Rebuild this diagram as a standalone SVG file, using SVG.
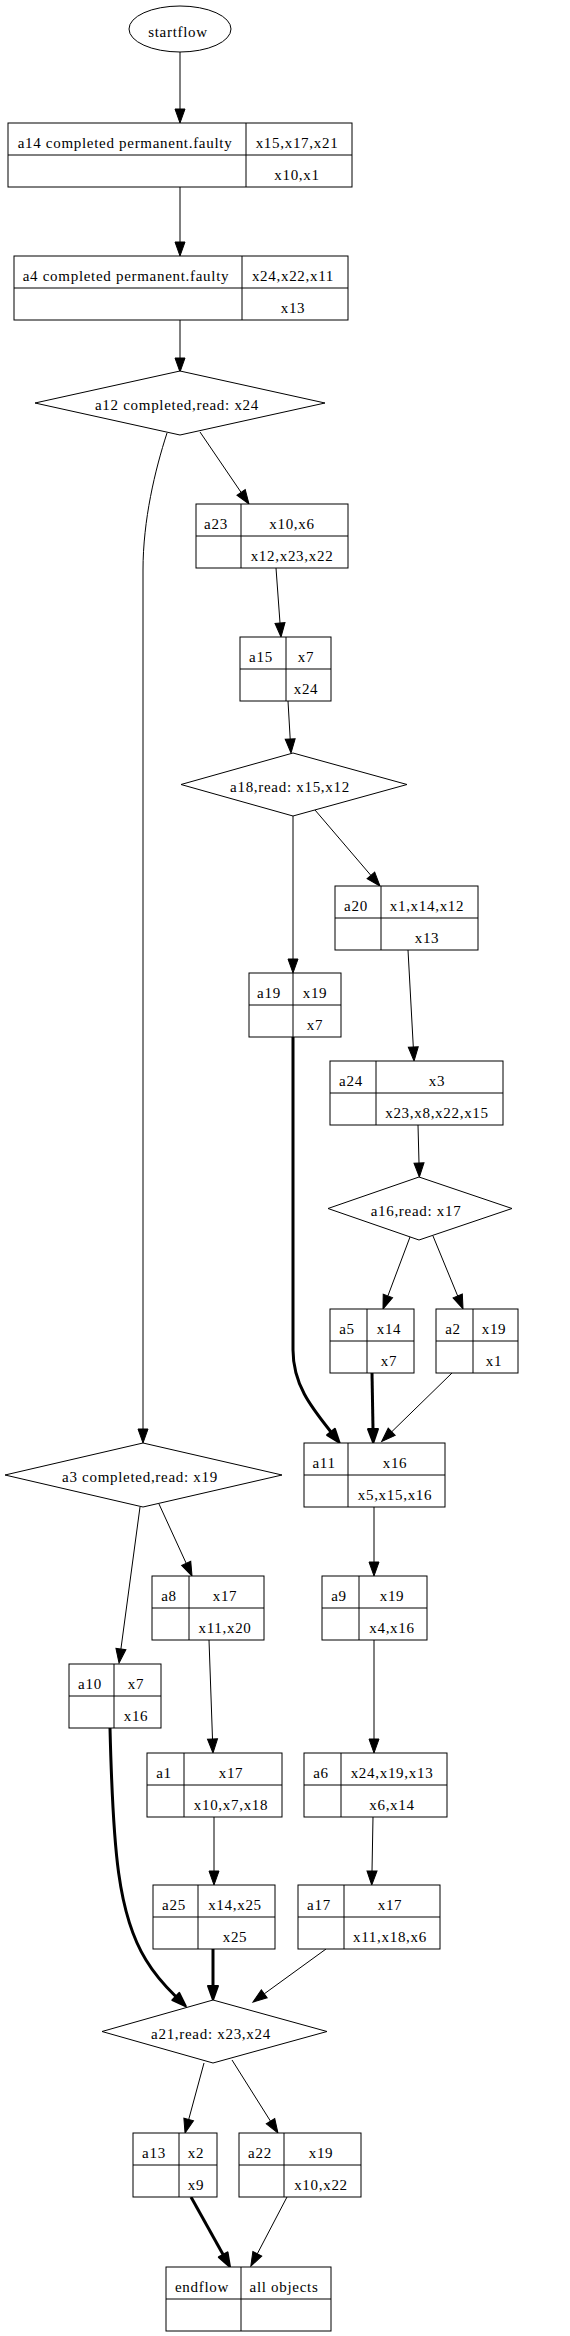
<svg xmlns="http://www.w3.org/2000/svg" width="570" height="2336" viewBox="0 0 570 2336">
<style>
.n rect,.n path,.n ellipse,.n polygon{fill:#fff;stroke:#000;stroke-width:1}
.n path{fill:none}
text{font-family:"Liberation Serif","Times New Roman",serif;font-size:15px;letter-spacing:0.7px;fill:#000;text-anchor:middle}
.e{fill:none;stroke:#000;stroke-width:1}
.et{fill:none;stroke:#000;stroke-width:3}
.e{marker-end:url(#ah)}
.et{marker-end:url(#aht)}
</style>
<defs>
<marker id="ah" markerUnits="userSpaceOnUse" viewBox="0 0 14 10" refX="0" refY="5" markerWidth="14" markerHeight="10" orient="auto" overflow="visible"><path d="M0,0 L14,5 L0,10 Z" fill="#000" stroke="#000" stroke-width="1"/></marker>
<marker id="aht" markerUnits="userSpaceOnUse" viewBox="0 0 14 10" refX="0" refY="5" markerWidth="14" markerHeight="10" orient="auto" overflow="visible"><path d="M0,0 L14,5 L0,10 Z" fill="#000" stroke="#000" stroke-width="2" stroke-linejoin="round"/></marker>
</defs>
<rect width="570" height="2336" fill="#fff"/>
<g id="edges">
<path class="e" d="M180,52 V109"/>
<path class="e" d="M180,187 V242"/>
<path class="e" d="M180,320 V358"/>
<path class="e" d="M200,432 L241.1,492.4"/>
<path class="e" d="M167,433 C155,470 143,520 143,570 V1429"/>
<path class="e" d="M276,568 L280,623"/>
<path class="e" d="M288,701 L290.2,739"/>
<path class="e" d="M293,816 V959"/>
<path class="e" d="M315,810 L370.9,875.4"/>
<path class="e" d="M408,950 L413.3,1047"/>
<path class="et" d="M293,1037 V1350 C293,1385 312,1408 331,1432"/>
<path class="e" d="M418,1125 L419,1163"/>
<path class="e" d="M410,1237 L387.9,1295.9"/>
<path class="e" d="M433,1236 L457.7,1296"/>
<path class="et" d="M372,1373 L373,1429"/>
<path class="e" d="M452,1373 L391.7,1431.8"/>
<path class="e" d="M140,1507 L120.9,1649.1"/>
<path class="e" d="M159,1504 L186.2,1563.3"/>
<path class="e" d="M374,1507 V1562"/>
<path class="e" d="M209,1640 L212.5,1739"/>
<path class="e" d="M374,1640 V1739"/>
<path class="et" d="M110,1728 C113,1850 118,1915 146,1960 C155,1975 165,1986 175.8,1996.5"/>
<path class="e" d="M214,1817 V1871"/>
<path class="e" d="M373,1817 L372,1871"/>
<path class="et" d="M213,1949 V1986"/>
<path class="e" d="M326,1949 L264.3,1993.8"/>
<path class="e" d="M204,2063 L188.7,2119.5"/>
<path class="e" d="M232,2060 L270.5,2121.2"/>
<path class="et" d="M191,2197 L223.2,2254.8"/>
<path class="e" d="M287,2197 L257.3,2253.8"/>
</g>
<g id="startflow" class="n"><ellipse cx="180" cy="29" rx="51" ry="23"/><text x="178" y="37">startflow</text></g>
<g id="a14" class="n"><rect x="8" y="123" width="344" height="64"/><path d="M8,155 H352 M246,123 V187"/><text x="125" y="148">a14 completed permanent.faulty</text><text x="297" y="148">x15,x17,x21</text><text x="297" y="180">x10,x1</text></g>
<g id="a4" class="n"><rect x="14" y="256" width="334" height="64"/><path d="M14,288 H348 M242,256 V320"/><text x="126" y="281">a4 completed permanent.faulty</text><text x="293" y="281">x24,x22,x11</text><text x="293" y="313">x13</text></g>
<g id="a12" class="n"><polygon points="180,371 325,403 180,435 35,403"/><text x="177" y="410">a12 completed,read: x24</text></g>
<g id="a23" class="n"><rect x="196" y="504" width="152" height="64"/><path d="M196,536 H348 M241,504 V568"/><text x="216" y="529">a23</text><text x="292" y="529">x10,x6</text><text x="292" y="561">x12,x23,x22</text></g>
<g id="a15" class="n"><rect x="240" y="637" width="91" height="64"/><path d="M240,669 H331 M286,637 V701"/><text x="261" y="662">a15</text><text x="306" y="662">x7</text><text x="306" y="694">x24</text></g>
<g id="a18" class="n"><polygon points="293,753 407,784.5 293,816 181,784.5"/><text x="290" y="792">a18,read: x15,x12</text></g>
<g id="a20" class="n"><rect x="335" y="886" width="143" height="64"/><path d="M335,918 H478 M381,886 V950"/><text x="356" y="911">a20</text><text x="427" y="911">x1,x14,x12</text><text x="427" y="943">x13</text></g>
<g id="a19" class="n"><rect x="249" y="973" width="92" height="64"/><path d="M249,1005 H341 M293,973 V1037"/><text x="269" y="998">a19</text><text x="315" y="998">x19</text><text x="315" y="1030">x7</text></g>
<g id="a24" class="n"><rect x="330" y="1061" width="173" height="64"/><path d="M330,1093 H503 M376,1061 V1125"/><text x="351" y="1086">a24</text><text x="437" y="1086">x3</text><text x="437" y="1118">x23,x8,x22,x15</text></g>
<g id="a16" class="n"><polygon points="419,1177 512,1208.5 419,1240 328,1208.5"/><text x="416" y="1216">a16,read: x17</text></g>
<g id="a5" class="n"><rect x="330" y="1309" width="84" height="64"/><path d="M330,1341 H414 M367,1309 V1373"/><text x="347" y="1334">a5</text><text x="389" y="1334">x14</text><text x="389" y="1366">x7</text></g>
<g id="a2" class="n"><rect x="436" y="1309" width="82" height="64"/><path d="M436,1341 H518 M473,1309 V1373"/><text x="453" y="1334">a2</text><text x="494" y="1334">x19</text><text x="494" y="1366">x1</text></g>
<g id="a11" class="n"><rect x="304" y="1443" width="141" height="64"/><path d="M304,1475 H445 M348,1443 V1507"/><text x="324" y="1468">a11</text><text x="395" y="1468">x16</text><text x="395" y="1500">x5,x15,x16</text></g>
<g id="a3" class="n"><polygon points="143,1443 282,1475 143,1507 5,1475"/><text x="140" y="1482">a3 completed,read: x19</text></g>
<g id="a8" class="n"><rect x="152" y="1576" width="112" height="64"/><path d="M152,1608 H264 M189,1576 V1640"/><text x="169" y="1601">a8</text><text x="225" y="1601">x17</text><text x="225" y="1633">x11,x20</text></g>
<g id="a9" class="n"><rect x="322" y="1576" width="105" height="64"/><path d="M322,1608 H427 M359,1576 V1640"/><text x="339" y="1601">a9</text><text x="392" y="1601">x19</text><text x="392" y="1633">x4,x16</text></g>
<g id="a10" class="n"><rect x="69" y="1664" width="92" height="64"/><path d="M69,1696 H161 M114,1664 V1728"/><text x="90" y="1689">a10</text><text x="136" y="1689">x7</text><text x="136" y="1721">x16</text></g>
<g id="a1" class="n"><rect x="147" y="1753" width="135" height="64"/><path d="M147,1785 H282 M184,1753 V1817"/><text x="164" y="1778">a1</text><text x="231" y="1778">x17</text><text x="231" y="1810">x10,x7,x18</text></g>
<g id="a6" class="n"><rect x="304" y="1753" width="143" height="64"/><path d="M304,1785 H447 M341,1753 V1817"/><text x="321" y="1778">a6</text><text x="392" y="1778">x24,x19,x13</text><text x="392" y="1810">x6,x14</text></g>
<g id="a25" class="n"><rect x="153" y="1885" width="122" height="64"/><path d="M153,1917 H275 M198,1885 V1949"/><text x="174" y="1910">a25</text><text x="235" y="1910">x14,x25</text><text x="235" y="1942">x25</text></g>
<g id="a17" class="n"><rect x="298" y="1885" width="142" height="64"/><path d="M298,1917 H440 M344,1885 V1949"/><text x="319" y="1910">a17</text><text x="390" y="1910">x17</text><text x="390" y="1942">x11,x18,x6</text></g>
<g id="a21" class="n"><polygon points="213,2000 327,2031.5 213,2063 102,2031.5"/><text x="211" y="2039">a21,read: x23,x24</text></g>
<g id="a13" class="n"><rect x="133" y="2133" width="84" height="64"/><path d="M133,2165 H217 M179,2133 V2197"/><text x="154" y="2158">a13</text><text x="196" y="2158">x2</text><text x="196" y="2190">x9</text></g>
<g id="a22" class="n"><rect x="239" y="2133" width="122" height="64"/><path d="M239,2165 H361 M284,2133 V2197"/><text x="260" y="2158">a22</text><text x="321" y="2158">x19</text><text x="321" y="2190">x10,x22</text></g>
<g id="endflow" class="n"><rect x="166" y="2267" width="165" height="64"/><path d="M166,2299 H331 M241,2267 V2331"/><text x="202" y="2292">endflow</text><text x="284" y="2292">all objects</text></g>
</svg>
